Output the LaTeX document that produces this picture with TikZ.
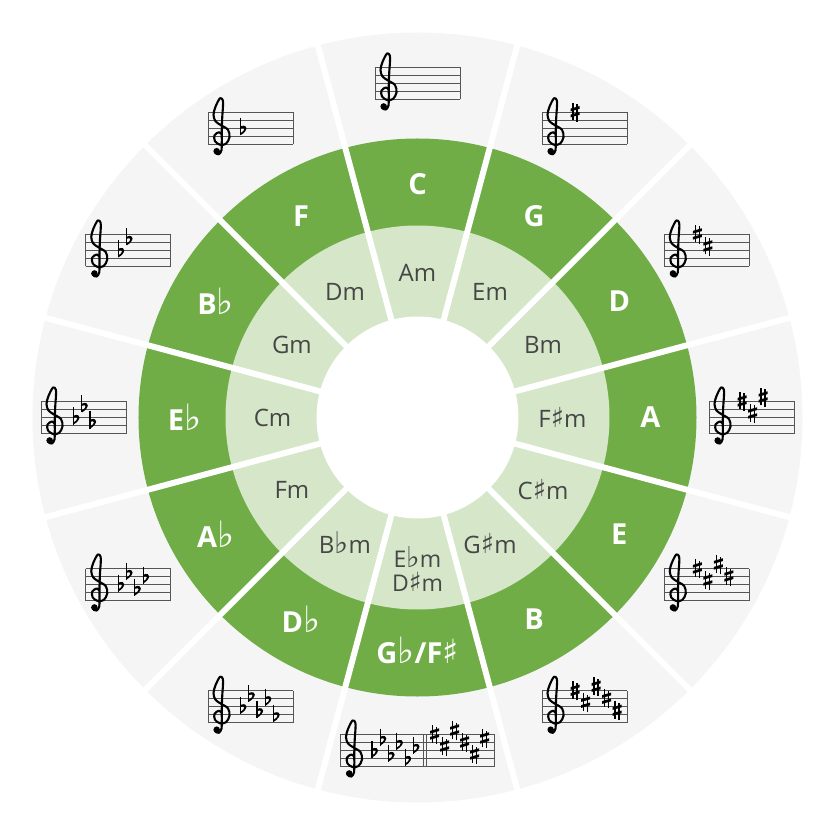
\documentclass[tikz,border=0pt]{standalone}
\usepackage{fontspec}
\setmainfont{Open Sans}
\newfontfamily\symfont{DejaVu Sans}
\definecolor{cofGray} {RGB}{245, 245, 245}
\definecolor{cofGreen}{RGB}{112, 173,  71}
\definecolor{cofLight}{RGB}{213, 230, 201}
\definecolor{cofText} {RGB}{ 70,  70,  70}
\definecolor{cofStaff}{RGB}{ 85,  85,  85}
\usepackage{tikz}

% accidentals inside the labels
\newcommand{\fl}{{\symfont\scalebox{1.25}{\char"266D}}}
\newcommand{\sh}{{\symfont\scalebox{1.15}{\char"266F}}}

% staff: five lines, 8px apart, closed at both ends
\newcommand{\staffbox}[1]{%
  \foreach \l in {0,8,...,32} {\draw[staffline] (0,\l) -- (#1,\l);}
  \draw[staffline] (0,0) -- (0,32) (#1,0) -- (#1,32);}

% treble clef, drawn from the G line outwards
\newcommand{\trebleclef}{%
  \draw[line width=2.1, line cap=round, line join=round]
    plot[smooth, tension=0.55] coordinates {(14,9.5) (11,12) (6.5,9) (7,3)
      (12,-0.5) (18,0.5) (21.5,7) (20,14.5) (13,19) (7.5,23) (5.5,29.5)
      (7.5,37.5) (12,46) (14.8,44) (15,38) (14.3,28) (13.8,15) (13.8,2)
      (13.5,-6) (11,-10) (8,-9.2)};
  \fill (8.7,-7) circle (3.3);}

% sharp and flat of the key signatures (#1 = x, #2 = y of the note)
\newcommand{\sharpsign}[2]{%
  \begin{scope}[shift={(#1,#2)}]
    \draw[line width=1.2] (-2,-8) -- (-2,9.5) (2,-9.5) -- (2,8);
    \fill (-4.5,-5.2) -- (4.5,-2.6) -- (4.5,0.2) -- (-4.5,-2.4) -- cycle;
    \fill (-4.5,0.8) -- (4.5,3.4) -- (4.5,6.2) -- (-4.5,3.6) -- cycle;
  \end{scope}}
\newcommand{\flatsign}[2]{%
  \begin{scope}[shift={(#1,#2)}]
    \draw[line width=1.2] (-2.5,10) -- (-2.5,-7);
    \fill (-2.5,-7) .. controls (5.5,-2.5) and (5.5,5) .. (-2.5,1.8)
      -- (-2.5,-0.3) .. controls (2.5,2) and (2.5,-2.5) .. (-2.5,-5) -- cycle;
  \end{scope}}

\begin{document}
\begin{tikzpicture}[
  x=1pt, y=1pt,
  major/.style={text=white, font=\fontsize{29}{30}\selectfont\bfseries},
  minor/.style={text=cofText, font=\fontsize{24}{25}\selectfont},
  staffline/.style={draw=cofStaff, line width=0.9},
  gap/.style={draw=white, line width=6},
]
  % Canvas 835 x 835 px, centre of the wheel at the origin
  \useasboundingbox (-417.5,-417.5) rectangle (417.5,417.5);

  % Rings
  \fill[cofGray]  (0,0) circle (385);
  \fill[cofGreen] (0,0) circle (279);
  \fill[cofLight] (0,0) circle (192);
  \fill[white]    (0,0) circle (101);

  % White gaps between the twelve sectors
  \foreach \a in {15,45,...,345}
    \draw[gap] (\a:95) -- (\a:392);

  % Major and relative minor keys
  \foreach \ang/\maj/\mnr/\id in {90/C/Am/c, 60/G/Em/g, 30/D/Bm/d,
      0/A/F\sh m/a, -30/E/C\sh m/e, -60/B/G\sh m/b, 240/D\fl/B\fl m/db,
      210/A\fl/Fm/ab, 180/E\fl/Cm/eb, 150/B\fl/Gm/bb, 120/F/Dm/f} {
    \node[major] (maj-\id) at (\ang:233) {\maj};
    \node[minor] (min-\id) at (\ang:145) {\mnr};
  }
  \node[major] (maj-gb) at (-90:233) {G\fl/F\sh};
  \node[minor, align=center, font=\fontsize{23}{24}\selectfont]
    (min-gb) at (-90:151) {E\fl m\\D\sh m};

  % Key signatures on the outer ring
  \foreach \ang/\kind/\num in {90/n/0, 60/s/1, 30/s/2, 0/s/3, -30/s/4,
      -60/s/5, 120/f/1, 150/f/2, 180/f/3, 210/f/4, 240/f/5} {
    \begin{scope}[shift={(\ang:334)}, xshift=-42.5, yshift=-16]
      \staffbox{85}
      \trebleclef
      \if\kind s
        \foreach \y [count=\i] in {32,20,36,24,12,28} {
          \ifnum\i>\num\else
            \pgfmathsetmacro{\xx}{33+(\i-1)*10.5}
            \sharpsign{\xx}{\y}
          \fi
        }
      \fi
      \if\kind f
        \foreach \y [count=\i] in {16,28,12,24,8,20} {
          \ifnum\i>\num\else
            \pgfmathsetmacro{\xx}{35+(\i-1)*8.3}
            \flatsign{\xx}{\y}
          \fi
        }
      \fi
    \end{scope}
  }

  % Six flats and six sharps share the bottom staff
  \begin{scope}[shift={(-90:333)}, xshift=-77, yshift=-16]
    \staffbox{154}
    \draw[staffline] (83,0) -- (83,32) (86,0) -- (86,32);
    \trebleclef
    \foreach \y [count=\i] in {16,28,12,24,8,20} {
      \pgfmathsetmacro{\xx}{34+(\i-1)*8.3}
      \flatsign{\xx}{\y}
    }
    \foreach \y [count=\i] in {32,20,36,24,12,28} {
      \pgfmathsetmacro{\xx}{94+(\i-1)*10}
      \sharpsign{\xx}{\y}
    }
  \end{scope}
\end{tikzpicture}
\end{document}
